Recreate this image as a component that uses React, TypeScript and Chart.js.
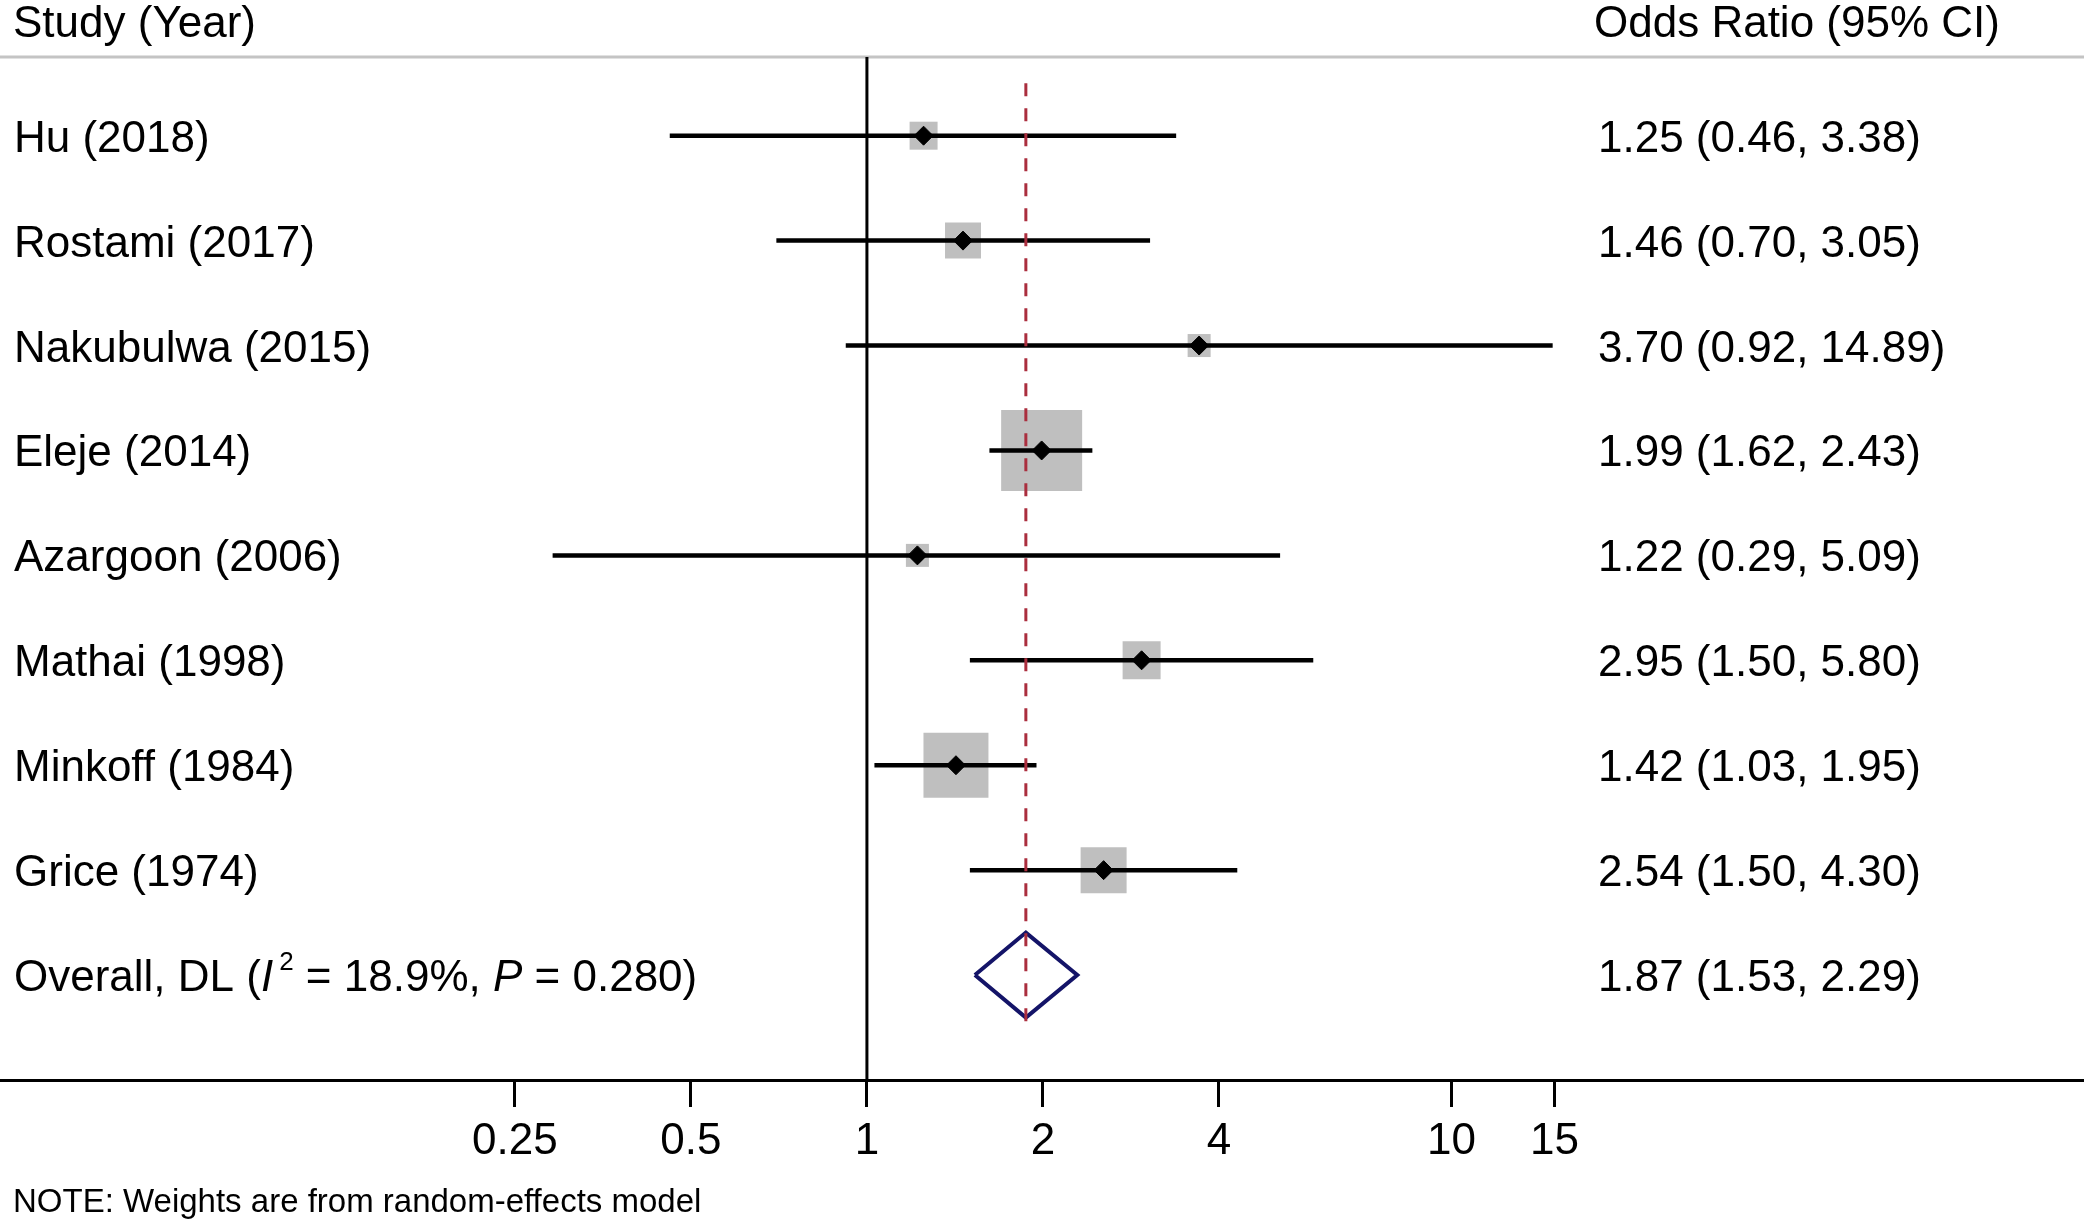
import React, { useEffect, useRef } from "react";
import { Chart, registerables } from "chart.js";

Chart.register(...registerables);

const STUDIES = [
  "Hu (2018)",
  "Rostami (2017)",
  "Nakubulwa (2015)",
  "Eleje (2014)",
  "Azargoon (2006)",
  "Mathai (1998)",
  "Minkoff (1984)",
  "Grice (1974)",
];
const ODDS = [1.25, 1.46, 3.7, 1.99, 1.22, 2.95, 1.42, 2.54];
const LOWER = [0.46, 0.7, 0.92, 1.62, 0.29, 1.5, 1.03, 1.5];
const UPPER = [3.38, 3.05, 14.89, 2.43, 5.09, 5.8, 1.95, 4.3];
const WEIGHTS = [4.48, 7.41, 3.03, 37.53, 3.03, 8.26, 24.16, 12.1];

const OVERALL_OR = 1.87;
const OVERALL_LO = 1.53;
const OVERALL_HI = 2.29;

const X_TICKS = [0.25, 0.5, 1, 2, 4, 10, 15];
const X_TICK_LABELS = ["0.25", "0.5", "1", "2", "4", "10", "15"];

const X_MIN = 0.0329;
const X_MAX = 120.7;

const FONT = '"Liberation Sans", Arial, Helvetica, sans-serif';

const fmt = (v: number) => v.toFixed(2);

const textPlugin = {
  id: "forestText",
  beforeDatasetsDraw(chart: any) {
    const { ctx, chartArea } = chart;
    ctx.save();
    ctx.strokeStyle = "#c4c4c4";
    ctx.lineWidth = 3;
    ctx.beginPath();
    ctx.moveTo(0, chartArea.top);
    ctx.lineTo(chart.width, chartArea.top);
    ctx.stroke();
    ctx.restore();
  },
  afterDraw(chart: any) {
    const { ctx } = chart;
    const y = chart.scales.y;
    ctx.save();
    ctx.fillStyle = "#000";
    ctx.textBaseline = "alphabetic";
    ctx.textAlign = "left";
    ctx.font = `44px ${FONT}`;
    ctx.fillText("Study (Year)", 13, 37);
    ctx.fillText("Odds Ratio (95% CI)", 1594, 37);
    STUDIES.forEach((s, i) => {
      const py = y.getPixelForValue(i) + 16;
      ctx.fillText(s, 14, py);
      ctx.fillText(`${fmt(ODDS[i])} (${fmt(LOWER[i])}, ${fmt(UPPER[i])})`, 1598, py);
    });
    const oy = y.getPixelForValue(STUDIES.length) + 16;
    ctx.fillText(`${fmt(OVERALL_OR)} (${fmt(OVERALL_LO)}, ${fmt(OVERALL_HI)})`, 1598, oy);

    // Overall label with italics and superscript
    const parts: [string, string, number][] = [
      ["Overall, DL (", `44px ${FONT}`, 0],
      ["I", `italic 44px ${FONT}`, 0],
      ["2", `26px ${FONT}`, -21],
      [" = 18.9%, ", `44px ${FONT}`, 0],
      ["P", `italic 44px ${FONT}`, 0],
      [" = 0.280)", `44px ${FONT}`, 0],
    ];
    let x = 14;
    parts.forEach(([t, f, dy]) => {
      ctx.font = f;
      ctx.fillText(t, x, oy + dy);
      x += ctx.measureText(t).width + (t === "I" ? 6 : 0);
    });

    ctx.font = `33px ${FONT}`;
    ctx.fillText("NOTE: Weights are from random-effects model", 13, 1212);
    ctx.restore();
  },
};

export default function App() {
  const canvasRef = useRef<HTMLCanvasElement | null>(null);

  useEffect(() => {
    if (!canvasRef.current) return;
    const n = STUDIES.length;
    const ciData: any[] = [];
    STUDIES.forEach((_, i) => {
      ciData.push({ x: LOWER[i], y: i });
      ciData.push({ x: UPPER[i], y: i });
      ciData.push({ x: UPPER[i], y: null });
    });
    const diamondHalf = 0.405;
    const chart = new Chart(canvasRef.current, {
      type: "scatter",
      data: {
        datasets: [
          {
            label: "markers",
            data: ODDS.map((v, i) => ({ x: v, y: i })),
            pointStyle: "rectRot",
            pointRadius: 9.5,
            pointBackgroundColor: "#000",
            pointBorderColor: "#000",
            pointBorderWidth: 1,
            showLine: false,
            order: 0,
          } as any,
          {
            label: "overall line",
            data: [
              { x: OVERALL_OR, y: -0.5 },
              { x: OVERALL_OR, y: n + 0.5 },
            ],
            showLine: true,
            borderColor: "#aa2e3e",
            borderWidth: 3,
            borderDash: [13, 12],
            pointRadius: 0,
            order: 1,
          },
          {
            label: "ci",
            data: ciData,
            showLine: true,
            spanGaps: false,
            borderColor: "#000",
            borderWidth: 4.5,
            borderCapStyle: "butt",
            pointRadius: 0,
            order: 2,
          },
          {
            label: "overall diamond",
            data: [
              { x: OVERALL_LO, y: n },
              { x: OVERALL_OR, y: n - diamondHalf },
              { x: OVERALL_HI, y: n },
              { x: OVERALL_OR, y: n + diamondHalf },
              { x: OVERALL_LO, y: n },
            ],
            showLine: true,
            borderColor: "#141468",
            borderWidth: 4,
            borderJoinStyle: "miter",
            pointRadius: 0,
            order: 2,
          },
          {
            label: "boxes",
            data: ODDS.map((v, i) => ({ x: v, y: i })),
            pointStyle: "rect",
            pointRadius: WEIGHTS.map((w) => (13.22 * Math.sqrt(w)) / (2 * Math.SQRT1_2)),
            pointBackgroundColor: "#bfbfbf",
            pointBorderWidth: 0,
            pointBorderColor: "rgba(0,0,0,0)",
            showLine: false,
            order: 3,
          } as any,
          {
            label: "null line",
            data: [
              { x: 1, y: -0.75 },
              { x: 1, y: n + 1 },
            ],
            showLine: true,
            borderColor: "#000",
            borderWidth: 3,
            pointRadius: 0,
            order: 4,
          },
        ],
      },
      options: {
        animation: false,
        responsive: false,
        devicePixelRatio: 1,
        events: [],
        layout: { autoPadding: false, padding: { top: 57, left: 0, right: 0, bottom: 0 } },
        plugins: { legend: { display: false }, tooltip: { enabled: false } },
        scales: {
          x: {
            type: "logarithmic",
            min: X_MIN,
            max: X_MAX,
            bounds: "data",
            afterBuildTicks: (scale: any) => {
              scale.ticks = X_TICKS.map((v) => ({ value: v }));
            },
            afterFit: (scale: any) => {
              scale.height = 142;
              scale.paddingLeft = 0;
              scale.paddingRight = 0;
            },
            ticks: {
              autoSkip: false,
              maxRotation: 0,
              padding: 8,
              color: "#000",
              font: { family: FONT, size: 44 },
              callback: (_v: any, i: number) => X_TICK_LABELS[i],
            },
            grid: {
              drawOnChartArea: false,
              drawTicks: true,
              tickLength: 27,
              tickWidth: 3,
              tickColor: "#000",
            },
            border: { display: true, color: "#000", width: 3 },
          } as any,
          y: {
            type: "linear",
            min: -0.75,
            max: n + 1,
            reverse: true,
            bounds: "data",
            display: false,
          } as any,
        },
      },
      plugins: [textPlugin],
    });
    return () => chart.destroy();
  }, []);

  return (
    <div style={{ position: "absolute", left: 0, top: 0, width: 2084, height: 1222, background: "#fff" }}>
      <canvas ref={canvasRef} width={2084} height={1222} style={{ display: "block" }} />
    </div>
  );
}
